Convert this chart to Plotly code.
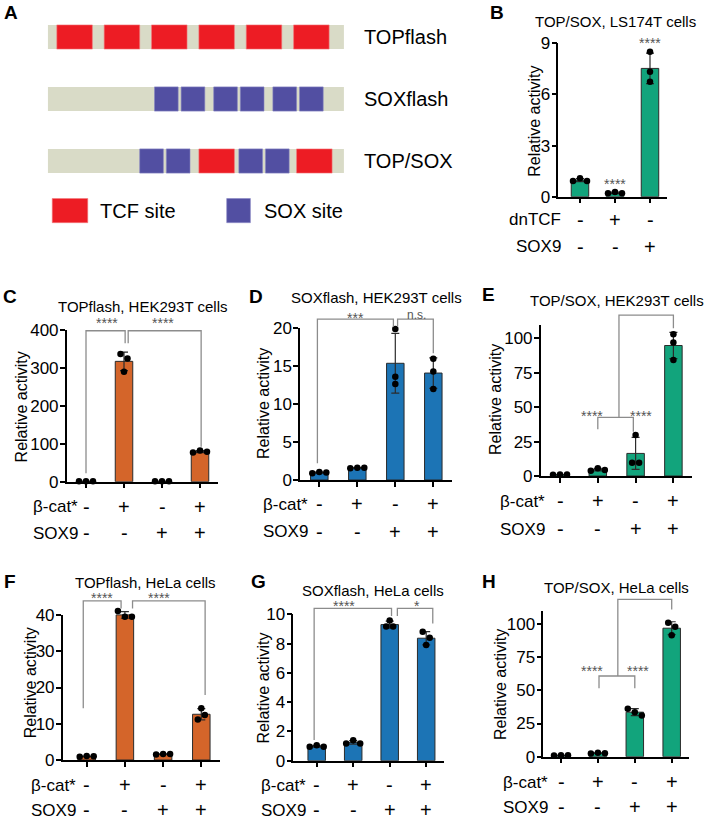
import numpy as np
import plotly.graph_objects as go

W, H = 705, 830
FONT = "Liberation Sans"

ORANGE = "#D4652A"
BLUE = "#1C74B5"
GREEN = "#12A47C"
RED = "#ED1C24"
PURPLE = "#524FA2"
BEIGE = "#D9DBC7"

"""Panel A: reporter constructs (positions along a 0-100 construct)"""
constructs = ["TOPflash", "SOXflash", "TOP/SOX"]
construct_length = 100
tcf_width, sox_width = 12, 8
tcf_starts = [[3, 19, 35, 51, 67, 83], [], [51, 84]]
sox_starts = [[], [36, 45, 56, 65, 76, 85], [31, 40, 64.5, 73.5]]
site_labels = ["TCF site", "SOX site"]

"""Panels B-H: relative reporter activity, 3 replicates per condition"""
title_B = "TOP/SOX, LS174T cells"
rows_B = ["dnTCF", "SOX9"]
signs_B = [["-", "+", "-"], ["-", "-", "+"]]
reps_B = [[0.92, 1.08, 0.92], [0.20, 0.27, 0.20], [8.50, 7.33, 6.75]]
yticks_B = [0, 3, 6, 9]
stars_B = [(1, 0.92, "****"), (2, 9.2, "****")]
brackets_B = []

rows_bcat = ["β-cat*", "SOX9"]
signs_bcat = [["-", "+", "-", "+"], ["-", "-", "+", "+"]]

title_C = "TOPflash, HEK293T cells"
reps_C = [[0.9, 1.1, 1.0], [337, 325, 290], [0.9, 1.1, 1.0], [77, 82, 79]]
yticks_C = [0, 100, 200, 300, 400]
stars_C = [(0.56, 426, "****"), (2.03, 426, "****")]
brackets_C = [([0, 0, 1.03, 1.03], [22, 398, 398, 365]),
              ([1.11, 1.11, 3.03, 3.03], [365, 398, 398, 92])]

title_D = "SOXflash, HEK293T cells"
reps_D = [[0.9, 1.05, 1.0], [1.55, 1.63, 1.63], [19.9, 13.6, 12.66], [16.0, 14.3, 12.0]]
yticks_D = [0, 5, 10, 15, 20]
stars_D = [(0.94, 21.75, "***"), (2.56, 21.7, "n.s.")]
brackets_D = [([-0.05, -0.05, 1.95, 1.95], [2.2, 21.2, 21.2, 20.2]),
              ([2.06, 2.06, 3.0, 3.0], [20.2, 21.2, 21.2, 16.7])]

title_E = "TOP/SOX, HEK293T cells"
reps_E = [[0.9, 1.1, 1.0], [3.9, 5.6, 4.4], [29.8, 9.7, 9.7], [103, 97, 84.3]]
yticks_E = [0, 25, 50, 75, 100]
stars_E = [(0.85, 46, "****"), (2.13, 46, "****")]
brackets_E = [([1.0, 1.0, 1.94, 1.94], [33.9, 42.6, 42.6, 32.2]),
              ([1.56, 1.56, 3.0, 3.0], [42.6, 116.9, 116.9, 107.3])]

title_F = "TOPflash, HeLa cells"
reps_F = [[0.9, 1.1, 1.0], [41.1, 39.5, 39.5], [1.5, 1.65, 1.65], [14.25, 11.2, 12.4]]
yticks_F = [0, 10, 20, 30, 40]
stars_F = [(0.39, 45.5, "****"), (1.9, 45.5, "****")]
brackets_F = [([-0.09, -0.09, 0.9, 0.9], [14.3, 43.9, 43.9, 41.8]),
              ([1.2, 1.2, 3.1, 3.1], [41.8, 43.9, 43.9, 17.9])]

title_G = "SOXflash, HeLa cells"
reps_G = [[0.95, 1.05, 0.95], [1.18, 1.39, 1.18], [9.57, 9.16, 9.16], [8.8, 8.4, 7.9]]
yticks_G = [0, 2, 4, 6, 8, 10]
stars_G = [(0.75, 10.75, "****"), (2.74, 10.75, "*")]
brackets_G = [([-0.07, -0.07, 2.05, 2.05], [1.41, 10.41, 10.41, 9.88]),
              ([2.21, 2.21, 3.18, 3.18], [9.88, 10.41, 10.41, 9.38])]

title_H = "TOP/SOX, HeLa cells"
reps_H = [[0.9, 1.1, 1.0], [2.5, 3.0, 2.6], [36.2, 33.5, 31.0], [101, 98, 91.5]]
yticks_H = [0, 25, 50, 75, 100]
stars_H = [(0.85, 66.6, "****"), (2.08, 66.6, "****")]
brackets_H = [([1.03, 1.03, 2.0, 2.0], [51.5, 60.8, 60.8, 51.5]),
              ([1.54, 1.54, 3.0, 3.0], [60.8, 118.6, 118.6, 111])]


def px_x(p):
    return p / W


def px_y(p):
    return 1 - p / H


"""Panel geometry in pixels"""
geom = {
    "B": dict(xl=558.3, xr=667, c0=580, dc=35, y0=196.7, ytop=43.3, axis_top=9, color=GREEN,
              letter=(497, 12), title=(615.5, 21), ylab=(535, 121.7), row_y=(220, 247), row_x=563),
    "C": dict(xl=66.7, xr=218, c0=86, dc=38, y0=481.7, ytop=330, axis_top=400, color=ORANGE,
              letter=(9.5, 296), title=(143, 306), ylab=(21.7, 406.7), row_y=(506.7, 533), row_x=80),
    "D": dict(xl=300, xr=451.7, c0=319.3, dc=38, y0=480, ytop=328.3, axis_top=20, color=BLUE,
              letter=(256, 296), title=(376, 297), ylab=(264, 404), row_y=(504, 531.7), row_x=310),
    "E": dict(xl=540.7, xr=692.3, c0=560, dc=37.8, y0=476, ytop=338.3, axis_top=110, color=GREEN,
              letter=(488, 294), title=(616.7, 300), ylab=(495, 400), row_y=(501, 529), row_x=547),
    "F": dict(xl=62.7, xr=220, c0=86.7, dc=38.2, y0=760, ytop=615, axis_top=40, color=ORANGE,
              letter=(10, 581), title=(145, 582), ylab=(30, 683.3), row_y=(785, 810), row_x=78),
    "G": dict(xl=293.3, xr=444.3, c0=316.7, dc=36.5, y0=760.7, ytop=614.3, axis_top=10, color=BLUE,
              letter=(258, 581), title=(372.5, 590), ylab=(263.3, 688.3), row_y=(785, 810), row_x=308),
    "H": dict(xl=543.3, xr=689.3, c0=561, dc=36.9, y0=756.7, ytop=624, axis_top=110, color=GREEN,
              letter=(489, 581), title=(616, 587), ylab=(500, 685), row_y=(782, 807), row_x=550),
}

panels = [
    ("B", title_B, rows_B, signs_B, reps_B, yticks_B, stars_B, brackets_B),
    ("C", title_C, rows_bcat, signs_bcat, reps_C, yticks_C, stars_C, brackets_C),
    ("D", title_D, rows_bcat, signs_bcat, reps_D, yticks_D, stars_D, brackets_D),
    ("E", title_E, rows_bcat, signs_bcat, reps_E, yticks_E, stars_E, brackets_E),
    ("F", title_F, rows_bcat, signs_bcat, reps_F, yticks_F, stars_F, brackets_F),
    ("G", title_G, rows_bcat, signs_bcat, reps_G, yticks_G, stars_G, brackets_G),
    ("H", title_H, rows_bcat, signs_bcat, reps_H, yticks_H, stars_H, brackets_H),
]

fig = go.Figure()
annotations = []
layout = {}


def text(t, x, y, size, xref="paper", yref="paper", **kw):
    d = dict(text=t, x=x, y=y, xref=xref, yref=yref, showarrow=False,
             font=dict(size=size, color=kw.pop("color", "black"), family=FONT))
    d.setdefault("xanchor", "center")
    d.setdefault("yanchor", "middle")
    d.update(kw)
    annotations.append(d)


"""Panel A"""
layout["xaxis"] = dict(domain=[0, 470 / W], range=[-16.2, 142.6], visible=False)
layout["yaxis"] = dict(domain=[px_y(260), 1], range=[3.597, -0.597], visible=False)
row_h = 0.39
for i, name in enumerate(constructs):
    fig.add_trace(go.Bar(y=[i], x=[construct_length], base=[0], orientation="h", width=row_h,
                         marker=dict(color=BEIGE, line_width=0), xaxis="x", yaxis="y"))
    if tcf_starts[i]:
        n = len(tcf_starts[i])
        fig.add_trace(go.Bar(y=[i] * n, x=[tcf_width] * n, base=tcf_starts[i], orientation="h",
                             width=row_h, marker=dict(color=RED, line=dict(color="#F47A7E", width=0.6)),
                             xaxis="x", yaxis="y"))
    if sox_starts[i]:
        n = len(sox_starts[i])
        fig.add_trace(go.Bar(y=[i] * n, x=[sox_width] * n, base=sox_starts[i], orientation="h",
                             width=row_h, marker=dict(color=PURPLE, line=dict(color="#8784C2", width=0.6)),
                             xaxis="x", yaxis="y"))
    text(name, 106, i, 20, xref="x", yref="y", xanchor="left")

legend_row = 2.8
fig.add_trace(go.Bar(y=[legend_row], x=[tcf_width], base=[1.45], orientation="h", width=row_h,
                     marker=dict(color=RED, line=dict(color="#F47A7E", width=0.6)), xaxis="x", yaxis="y"))
fig.add_trace(go.Bar(y=[legend_row], x=[sox_width], base=[60.4], orientation="h", width=row_h,
                     marker=dict(color=PURPLE, line=dict(color="#8784C2", width=0.6)), xaxis="x", yaxis="y"))
text(site_labels[0], 16.8, legend_row, 20, xref="x", yref="y", xanchor="left")
text(site_labels[1], 72.3, legend_row, 20, xref="x", yref="y", xanchor="left")
text("<b>A</b>", px_x(11), px_y(12.5), 19)


def jitter(vals, pxpu, dc):
    # spread replicates that would overlap horizontally
    order = np.argsort(vals)
    groups, cur = [], [order[0]]
    for a, b in zip(order[:-1], order[1:]):
        if (vals[b] - vals[a]) * pxpu < 6:
            cur.append(b)
        else:
            groups.append(cur)
            cur = [b]
    groups.append(cur)
    offs = np.zeros(len(vals))
    for grp in groups:
        grp = sorted(grp)
        for j, idx in enumerate(grp):
            offs[idx] = (j - (len(grp) - 1) / 2) * 7.0 / dc
    return offs


for k, (key, title, rows, signs, reps, yticks, stars, brackets) in enumerate(panels):
    g = geom[key]
    n = k + 2
    xa, ya, yd = f"x{n}", f"y{n}", f"y{n + 7}"
    nb = len(reps)
    pxpu = (g["y0"] - g["ytop"]) / yticks[-1]
    ext_px = min(g["y0"] - g["ytop"] + 45, g["y0"] - 1)

    layout[f"xaxis{n}"] = dict(
        domain=[px_x(g["xl"]), px_x(g["xr"])],
        range=[(g["xl"] - g["c0"]) / g["dc"], (g["xr"] - g["c0"]) / g["dc"]],
        anchor=ya, showline=True, linecolor="black", linewidth=1.5,
        ticks="outside", tickvals=list(range(nb)), ticklen=5, tickwidth=1.5, tickcolor="black",
        showticklabels=False, showgrid=False, zeroline=False, automargin=False)
    layout[f"yaxis{n}"] = dict(
        domain=[px_y(g["y0"]), px_y(g["y0"] - g["axis_top"] * pxpu)],
        range=[0, g["axis_top"]], anchor=xa, showline=True, linecolor="black", linewidth=1.5,
        ticks="outside", tickvals=yticks, ticklen=5, tickwidth=1.5, tickcolor="black",
        tickfont=dict(size=17, color="black", family=FONT), ticklabelstandoff=-2,
        showgrid=False, zeroline=False, automargin=False)
    layout[f"yaxis{n + 7}"] = dict(
        domain=[px_y(g["y0"]), px_y(g["y0"] - ext_px)],
        range=[0, ext_px / pxpu], anchor=xa, visible=False)

    fig.add_trace(go.Scatter(x=[0], y=[0], mode="markers", marker=dict(opacity=0),
                             hoverinfo="skip", xaxis=xa, yaxis=ya))

    means = [float(np.mean(r)) for r in reps]
    sds = [float(np.std(r, ddof=1)) for r in reps]
    fig.add_trace(go.Bar(
        x=list(range(nb)), y=means, width=17.5 / g["dc"],
        marker=dict(color=g["color"], line=dict(color="#2b2b2b", width=1)),
        error_y=dict(type="data", array=sds, visible=True, color="#2b2b2b", thickness=1.2, width=4),
        xaxis=xa, yaxis=yd))

    dx, dy = [], []
    for i, r in enumerate(reps):
        offs = jitter(np.array(r, dtype=float), pxpu, g["dc"])
        dx += list(i + offs)
        dy += list(r)
    fig.add_trace(go.Scatter(x=dx, y=dy, mode="markers", marker=dict(color="black", size=6.5),
                             cliponaxis=False, xaxis=xa, yaxis=yd))

    for bx, by in brackets:
        fig.add_trace(go.Scatter(x=bx, y=by, mode="lines", line=dict(color="#8c8c8c", width=1.3),
                                 xaxis=xa, yaxis=yd))
    for sx, sy, st in stars:
        text(st, sx, sy, 12 if st == "n.s." else 14, xref=xa, yref=yd, color="#555555",
             yshift=0 if st == "n.s." else -3)

    text(f"<b>{key}</b>", px_x(g["letter"][0]), px_y(g["letter"][1]), 19)
    text(title, px_x(g["title"][0]), px_y(g["title"][1]), 15)
    text("Relative activity", px_x(g["ylab"][0]), px_y(g["ylab"][1]), 16, textangle=-90)
    for j, lab in enumerate(rows):
        yy = px_y(g["row_y"][j])
        text(lab, px_x(g["row_x"]), yy, 17, xanchor="right")
        for i, s in enumerate(signs[j]):
            text(s, i, yy, 20, xref=xa)

fig.update_layout(
    width=W, height=H, margin=dict(l=0, r=0, t=0, b=0, autoexpand=False),
    paper_bgcolor="white", plot_bgcolor="rgba(0,0,0,0)",
    barmode="overlay", showlegend=False,
    font=dict(family=FONT, color="black"),
    annotations=annotations,
    **layout)

# the page's default body margin would push the figure off the window edge
fig.write_html("out.html", config={"displayModeBar": False},
               post_script="document.body.style.margin='0';"
                           "document.body.style.overflow='hidden';")
